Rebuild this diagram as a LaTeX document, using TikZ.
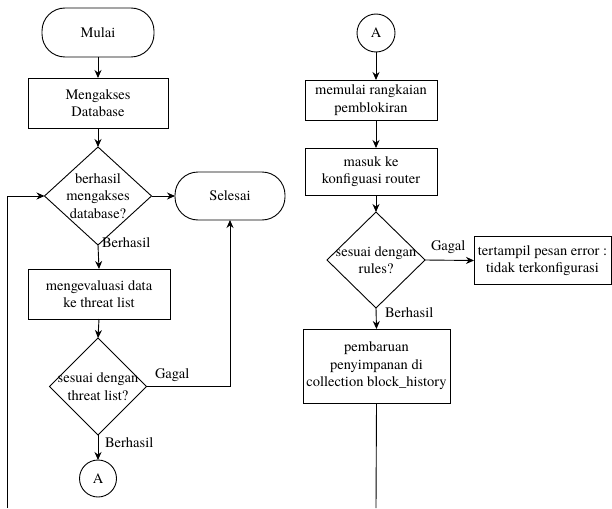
\documentclass[tikz,border=0pt]{standalone}
\usepackage{fontspec}
\setmainfont{TeX Gyre Termes}
\usetikzlibrary{shapes.geometric,arrows.meta}
\begin{document}
\begin{tikzpicture}[x=1pt,y=-1pt,
  line width=0.9pt,
  font=\rmfamily\fontsize{14.5}{17.5}\selectfont,
  every node/.style={inner sep=0pt,outer sep=0pt},
  arr/.style={-{Stealth[length=8pt,width=7pt]}},
  term/.style={draw,rectangle,rounded corners=23pt,align=center},
  procbox/.style={draw,rectangle,align=center},
  decision/.style={draw,diamond},
  dtext/.style={align=center},
  conn/.style={draw,circle,minimum size=37pt},
  lbl/.style={anchor=west}]
\useasboundingbox (0,0) rectangle (612,508);

% left column
\node[term,minimum width=112pt,minimum height=49pt] (mulai) at (98,32.5) {Mulai};
\node[procbox,minimum width=140pt,minimum height=50pt] (db) at (98,103) {Mengakses\\Database};
\node[decision,minimum width=107pt,minimum height=98pt] (d1) at (98,196) {};
\node[dtext] (t1) at (98,196) {berhasil\\mengakses\\database?};
\node[term,minimum width=110pt,minimum height=48pt] (selesai) at (230,196) {Selesai};
\node[procbox,minimum width=142pt,minimum height=50pt] (eval) at (99,294) {mengevaluasi data\\ke threat list};
\node[decision,minimum width=97pt,minimum height=97pt] (d2) at (98,386.5) {};
\node[dtext] (t2) at (98,386.5) {sesuai dengan\\threat list?};
\node[conn] (a1) at (98,478.5) {A};
\coordinate (loopstart) at (7,508);

% right column
\node[conn,minimum size=38pt] (a2) at (376,33) {A};
\node[procbox,minimum width=132pt,minimum height=40pt] (blk) at (371,100) {memulai rangkaian\\pemblokiran};
\node[procbox,minimum width=132pt,minimum height=47pt] (cfg) at (371,171.5) {masuk ke\\konfiguasi router};
\node[decision,minimum width=98pt,minimum height=96pt] (d3) at (376,260) {};
\node[dtext] (t3) at (376,260) {sesuai dengan\\rules?};
\node[procbox,minimum width=137pt,minimum height=48pt] (err) at (542.5,260.5) {tertampil pesan error :\\tidak terkonfigurasi};
\node[procbox,minimum width=147pt,minimum height=74pt] (upd) at (376.5,366) {pembaruan\\penyimpanan di\\collection block\_history};
\coordinate (tailend) at (376,508);

% connectors, left column
\draw[arr] (mulai.south) -- (db.north);
\draw[arr] (db.south) -- (d1.north);
\draw[arr] (d1.east) -- (selesai.west);
\draw[arr] (d1.south) -- (eval.north);
\draw[arr] (eval.south) -- (d2.north);
\draw[arr] (d2.east) -| (selesai.south);
\draw[arr] (d2.south) -- (a1.north);
\draw[arr] (loopstart) |- (d1.west);

% connectors, right column
\draw[arr] (a2.south) -- (a2.south |- blk.north);
\draw[arr] (a2.south |- blk.south) -- (a2.south |- cfg.north);
\draw[arr] (a2.south |- cfg.south) -- (d3.north);
\draw[arr] (d3.east) -- (err.west);
\draw[arr] (d3.south) -- (upd.north);
\draw (upd.south) -- (tailend);

% branch labels
\node[lbl] (l1) at (102,243) {Berhasil};
\node[lbl] (l2) at (155,375) {Gagal};
\node[lbl] (l3) at (105,443) {Berhasil};
\node[lbl] (l4) at (431,247) {Gagal};
\node[lbl] (l5) at (385,313) {Berhasil};
\end{tikzpicture}
\end{document}
